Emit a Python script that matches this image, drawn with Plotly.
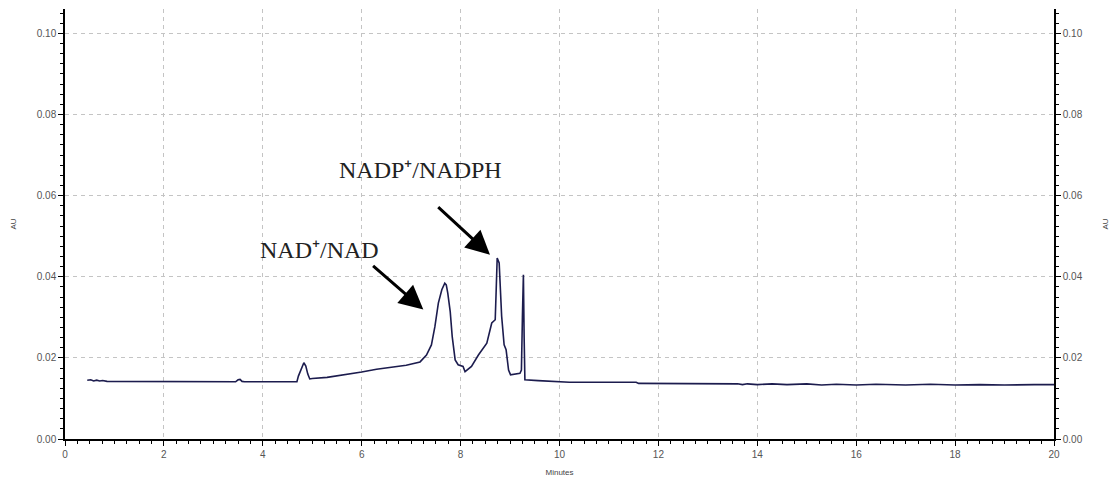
import plotly.graph_objects as go

# Chromatogram trace (minutes, AU)
minutes = [0.45, 0.52, 0.58, 0.64, 0.70, 0.76, 0.85, 1.5, 2.5, 3.45, 3.50, 3.54, 3.58, 3.63, 4.0, 4.69,
           4.72, 4.78, 4.83, 4.87, 4.91, 4.95, 5.0, 5.3, 5.6, 6.0, 6.3, 6.6, 6.9, 7.18, 7.31, 7.41,
           7.48, 7.55, 7.62, 7.68, 7.71, 7.74, 7.79, 7.83, 7.89, 7.95, 8.05, 8.09, 8.22, 8.36, 8.53,
           8.63, 8.70, 8.72, 8.74, 8.78, 8.83, 8.88, 8.92, 8.97, 9.01, 9.20, 9.23, 9.25, 9.27, 9.285,
           9.30, 9.57, 10.2, 11.55, 11.6, 13.6, 13.7, 13.8, 14.0, 14.3, 14.6, 15.0, 15.3, 15.6, 16.0,
           16.4, 17.0, 17.5, 18.0, 18.5, 19.0, 19.6, 20.0]
absorbance = [0.0145, 0.0146, 0.0143, 0.0145, 0.0143, 0.0144, 0.0142, 0.0142, 0.0141, 0.0141, 0.0146, 0.0147, 0.0142, 0.0141, 0.0141, 0.0141,
              0.0155, 0.0175, 0.0188, 0.0180, 0.0160, 0.0148, 0.0149, 0.0152, 0.0157, 0.0165, 0.0172, 0.0177, 0.0182, 0.0190, 0.0207, 0.0232,
              0.0277, 0.0335, 0.0368, 0.0384, 0.0380, 0.0360, 0.0314, 0.0253, 0.0195, 0.0183, 0.0179, 0.0166, 0.0179, 0.0207, 0.0236,
              0.0286, 0.0294, 0.0368, 0.0446, 0.0434, 0.0303, 0.0232, 0.0220, 0.0170, 0.0158, 0.0162, 0.0170, 0.0300, 0.0405, 0.0250,
              0.0146, 0.0144, 0.0140, 0.0140, 0.0137, 0.0136, 0.0134, 0.0136, 0.0134, 0.0136, 0.0134, 0.0136, 0.0133, 0.0135, 0.0133,
              0.0135, 0.0133, 0.0135, 0.0133, 0.0134, 0.0133, 0.0134, 0.0134]

x_ticks = [0, 2, 4, 6, 8, 10, 12, 14, 16, 18, 20]
y_ticks = [0.00, 0.02, 0.04, 0.06, 0.08, 0.10]
y_tick_labels = ["0.00", "0.02", "0.04", "0.06", "0.08", "0.10"]

peak_labels = ["NAD\u207a/NAD", "NADP\u207a/NADPH"]
label_pos = [(5.14, 0.0465), (7.18, 0.0664)]
arrow_tips = [(7.246, 0.0319), (8.594, 0.0454)]
arrow_tails = [(6.20, 0.0430), (7.517, 0.0575)]

line_color = "#1c1c4e"
tick_font = dict(family="Liberation Sans, Arial, sans-serif", size=10, color="#555555")
title_font = dict(family="Liberation Sans, Arial, sans-serif", size=8, color="#444444")
grid_color = "#c4c4c4"

fig = go.Figure()
fig.add_trace(go.Scatter(x=minutes, y=absorbance, mode="lines",
                         line=dict(color=line_color, width=1.6), showlegend=False,
                         hoverinfo="skip"))
fig.add_trace(go.Scatter(x=[None], y=[None], yaxis="y2", showlegend=False, hoverinfo="skip"))

common_y = dict(
    range=[0, 0.106], tickvals=y_ticks, ticktext=y_tick_labels, automargin=False,
    showline=True, linecolor="black", linewidth=1.5, ticks="outside", ticklen=5,
    tickcolor="black", tickwidth=1, tickfont=tick_font, zeroline=False,
    minor=dict(dtick=0.0025, ticks="outside", ticklen=3, tickcolor="black", showgrid=False),
)

fig.update_layout(
    width=1115, height=478,
    margin=dict(l=65, r=61, t=9, b=39, autoexpand=False),
    paper_bgcolor="white", plot_bgcolor="white",
    xaxis=dict(
        range=[0, 20], tickvals=x_ticks, showline=True, linecolor="black", linewidth=1.5,
        ticks="outside", ticklen=5, tickcolor="black", tickfont=tick_font, automargin=False,
        showgrid=True, gridcolor=grid_color, griddash="4px,4px", gridwidth=1, zeroline=False,
        minor=dict(dtick=0.25, ticks="outside", ticklen=3, tickcolor="black", showgrid=False),
        title=dict(text="Minutes", font=title_font, standoff=11),
    ),
    yaxis=dict(
        **common_y, side="left",
        showgrid=True, gridcolor=grid_color, griddash="4px,4px", gridwidth=1,
        title=dict(text="AU", font=title_font, standoff=19),
    ),
    yaxis2=dict(
        **common_y, side="right", overlaying="y", anchor="x", showgrid=False,
        title=dict(text="AU", font=title_font, standoff=21),
    ),
)

for text, (lx, ly) in zip(peak_labels, label_pos):
    fig.add_annotation(x=lx, y=ly, xref="x", yref="y", text=text, showarrow=False,
                       font=dict(family="Liberation Serif, Times New Roman, serif", size=24, color="#222222"),
                       xanchor="center", yanchor="middle")

for (tx, ty), (sx, sy) in zip(arrow_tips, arrow_tails):
    fig.add_annotation(x=tx, y=ty, ax=sx, ay=sy, xref="x", yref="y", axref="x", ayref="y",
                       text="", showarrow=True, arrowhead=2, arrowsize=1.6, arrowwidth=3,
                       arrowcolor="black", standoff=0)

fig.write_html("out.html")
